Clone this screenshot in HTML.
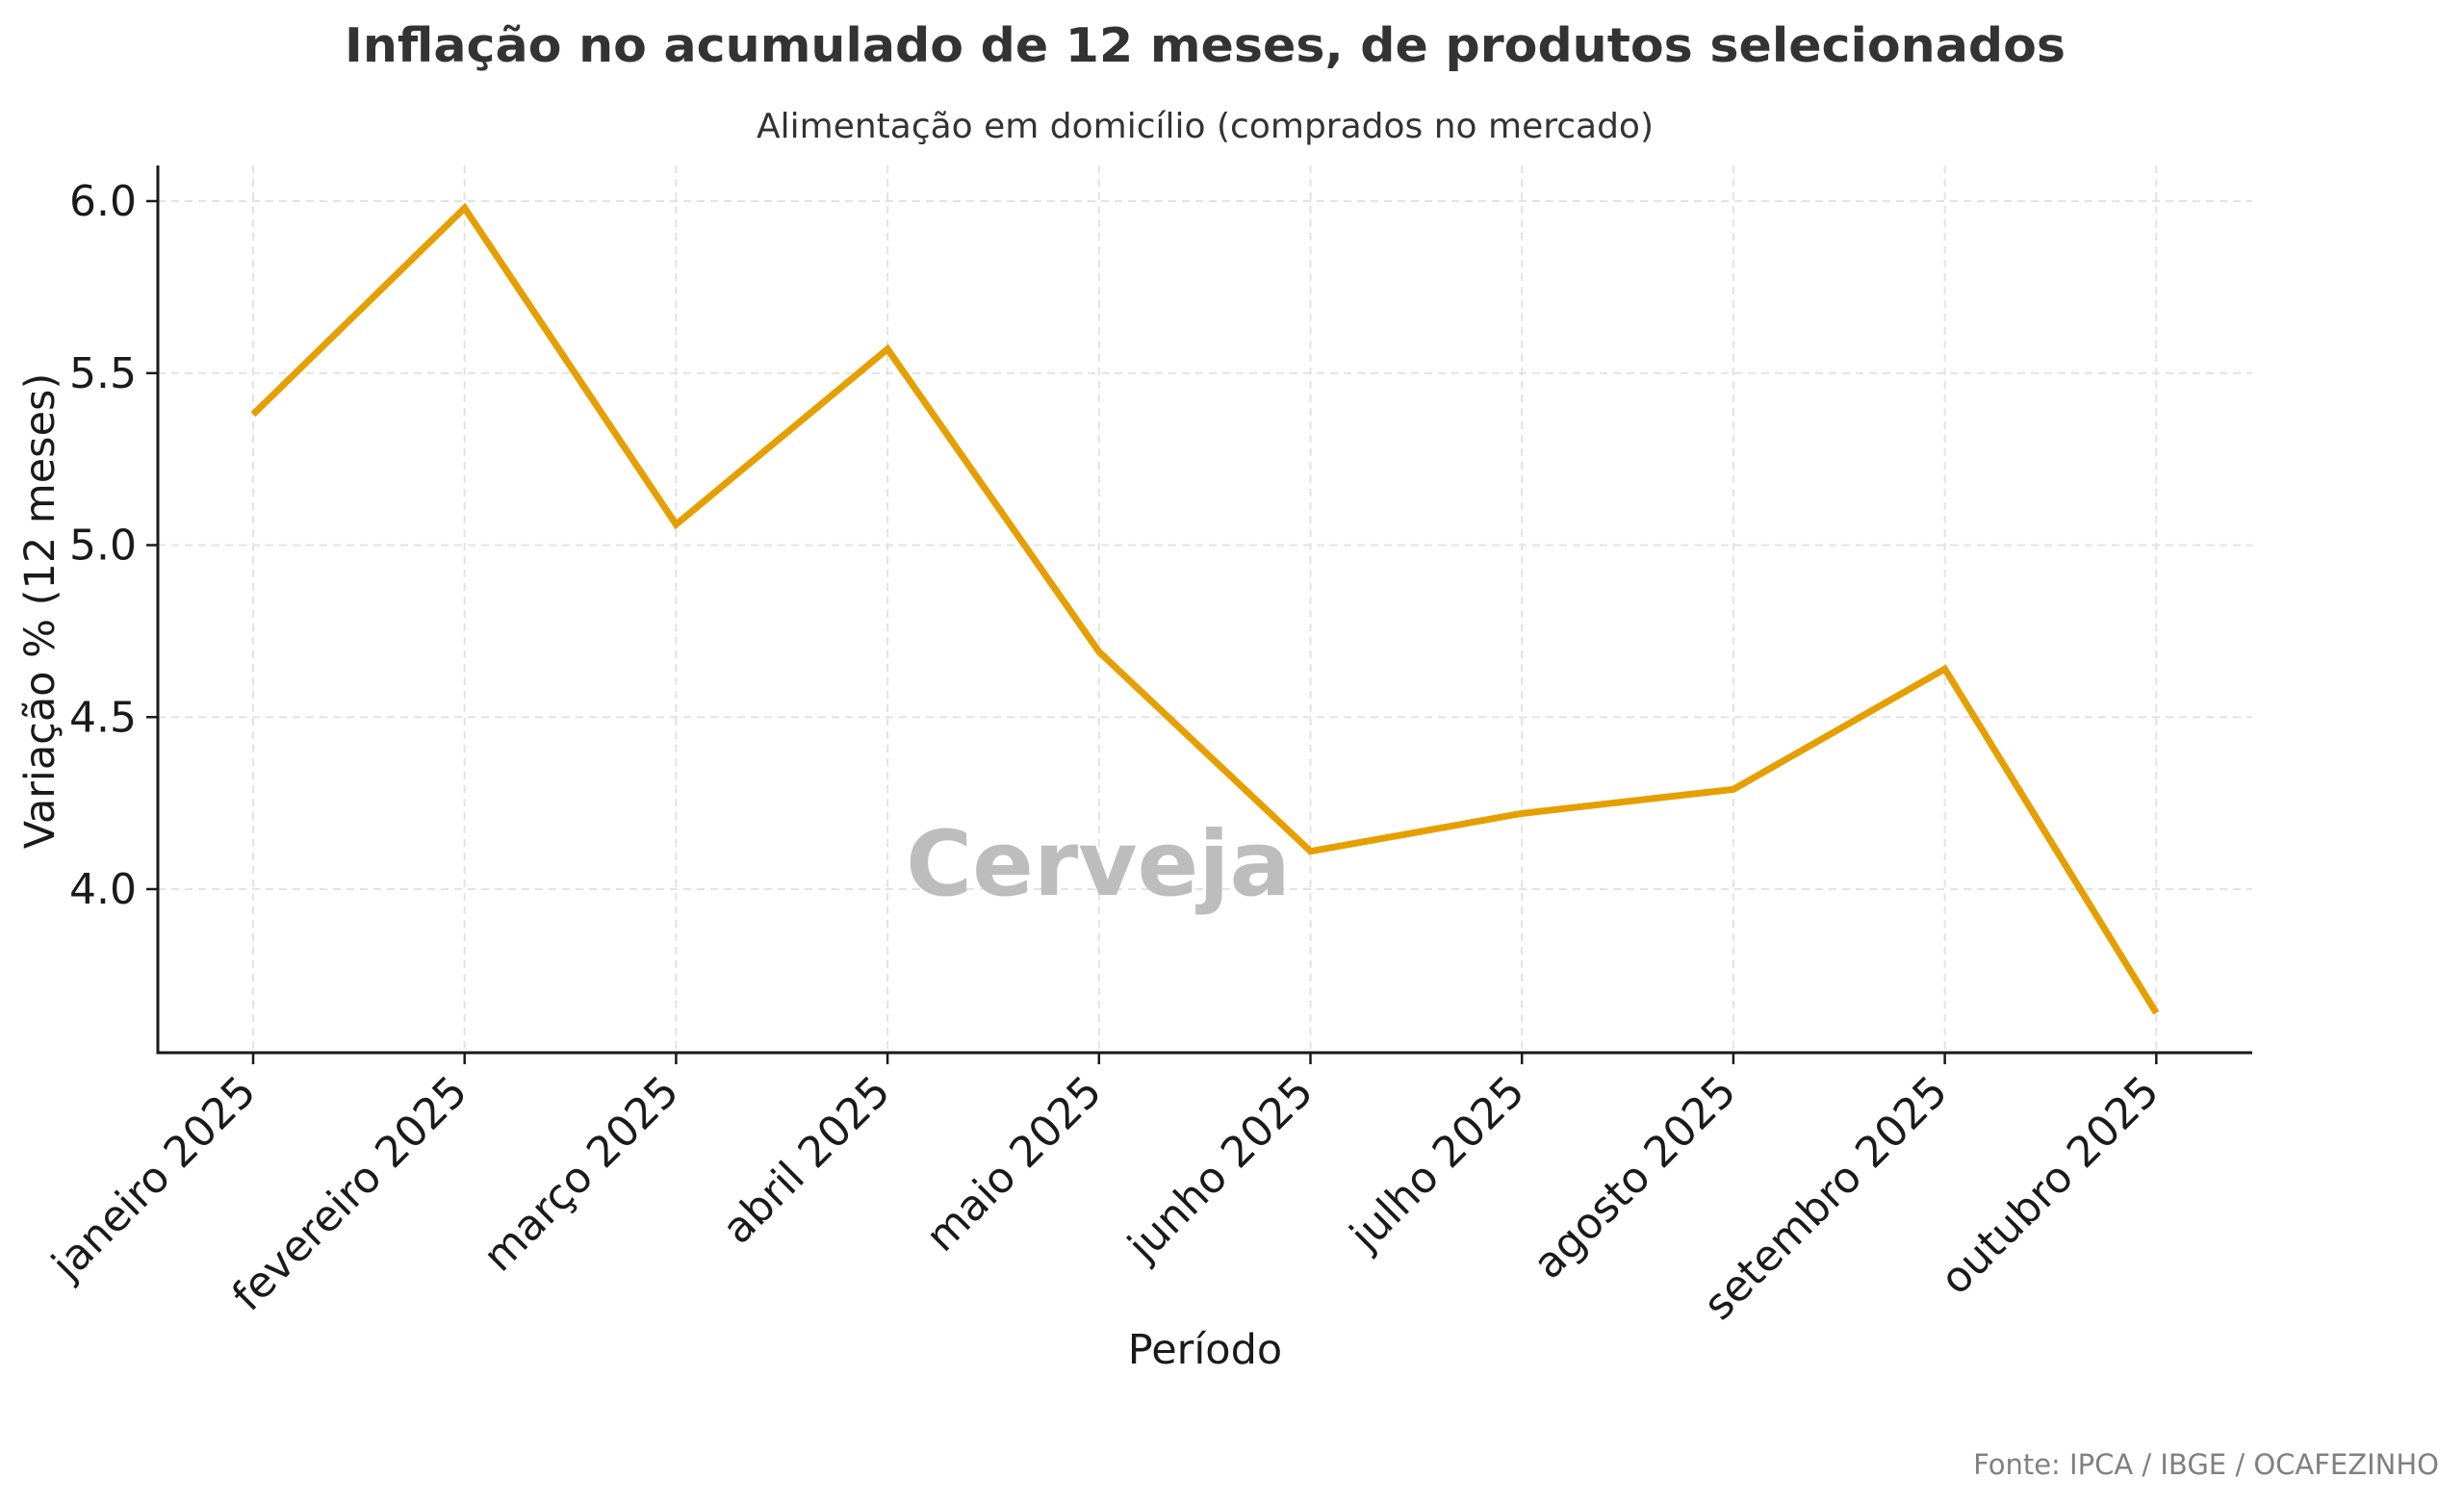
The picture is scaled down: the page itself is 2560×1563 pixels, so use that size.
<!DOCTYPE html>
<html><head><meta charset="utf-8"><style>
html,body{margin:0;padding:0;background:#fff;}
svg{display:block;font-family:"DejaVu Sans","Liberation Sans",sans-serif;}
</style></head><body>
<svg id="chart" width="2560" height="1563" viewBox="0 0 2560 1563" xmlns="http://www.w3.org/2000/svg">
<rect width="2560" height="1563" fill="#fff"/>
<text x="1252" y="64" text-anchor="middle" font-size="49" font-weight="bold" fill="#333" textLength="1788" lengthAdjust="spacingAndGlyphs">Inflação no acumulado de 12 meses, de produtos selecionados</text>
<text x="1252" y="143" text-anchor="middle" font-size="36" fill="#333" textLength="932" lengthAdjust="spacingAndGlyphs">Alimentação em domicílio (comprados no mercado)</text>
<g id="grid"></g>
<text x="1141" y="930" text-anchor="middle" font-size="94" font-weight="bold" fill="#bdbdbd">Cerveja</text>
<g id="series"></g>
<g id="axes"></g>
<text x="0" y="0" transform="translate(56,635) rotate(-90)" text-anchor="middle" font-size="43" fill="#1a1a1a">Variação % (12 meses)</text>
<text x="1252" y="1417" text-anchor="middle" font-size="43" fill="#1a1a1a">Período</text>
<text x="2534" y="1532" text-anchor="end" font-size="29" fill="#808080">Fonte: IPCA / IBGE / OCAFEZINHO</text>
</svg>
<script>
const categories = ["janeiro 2025","fevereiro 2025","março 2025","abril 2025","maio 2025","junho 2025","julho 2025","agosto 2025","setembro 2025","outubro 2025"];
const values = [5.38,5.98,5.06,5.57,4.69,4.11,4.22,4.29,4.64,3.64];
const yTicks = [4.0,4.5,5.0,5.5,6.0];
const yTickLabels = ["4.0","4.5","5.0","5.5","6.0"];

const NS="http://www.w3.org/2000/svg";
const plotLeft=164, plotRight=2340, plotTop=172, plotBottom=1094;
const xStart=263, xStep=219.7;
function xScale(i){return xStart+i*xStep;}
function yScale(v){return 209+(6-v)*357.5;}
function mk(tag,attrs,parent){const e=document.createElementNS(NS,tag);for(const k in attrs)e.setAttribute(k,attrs[k]);parent.appendChild(e);return e;}
const gridG=document.getElementById('grid'), axesG=document.getElementById('axes'), seriesG=document.getElementById('series');

yTicks.forEach((t,i)=>{
  const y=yScale(t);
  const g=mk('line',{x1:plotLeft,x2:plotRight,y1:y,y2:y,stroke:'#e3e3e3','stroke-width':2,'stroke-dasharray':'8,6'},gridG);
  
  
  const tk=mk('line',{x1:plotLeft-12,x2:plotLeft,y1:y,y2:y,stroke:'#1a1a1a','stroke-width':2.5},axesG);
  
  
  const tl=mk('text',{x:plotLeft-22,y:y+15,'text-anchor':'end','font-size':44,fill:'#1a1a1a'},axesG);
  tl.textContent=yTickLabels[i];
  
  
});
categories.forEach((c,i)=>{
  const x=xScale(i);
  const g=mk('line',{x1:x,x2:x,y1:plotTop,y2:plotBottom,stroke:'#e3e3e3','stroke-width':2,'stroke-dasharray':'8,6'},gridG);
  
  
  const tk=mk('line',{x1:x,x2:x,y1:plotBottom,y2:plotBottom+12,stroke:'#1a1a1a','stroke-width':2.5},axesG);
  
  
  const tl=mk('text',{x:0,y:0,transform:`translate(${x+5},${plotBottom+43}) rotate(-45)`,'text-anchor':'end','font-size':44,fill:'#1a1a1a'},axesG);
  tl.textContent=c;
  
  
});
const ax=mk('path',{d:`M${plotLeft},${plotTop} L${plotLeft},${plotBottom} L${plotRight},${plotBottom}`,fill:'none',stroke:'#1a1a1a','stroke-width':3},axesG);



const pts=values.map((v,i)=>xScale(i)+','+yScale(v)).join(' ');
const line=mk('polyline',{points:pts,fill:'none',stroke:'#E69F00','stroke-width':7,'stroke-linejoin':'miter'},seriesG);


</script>
</body></html>
